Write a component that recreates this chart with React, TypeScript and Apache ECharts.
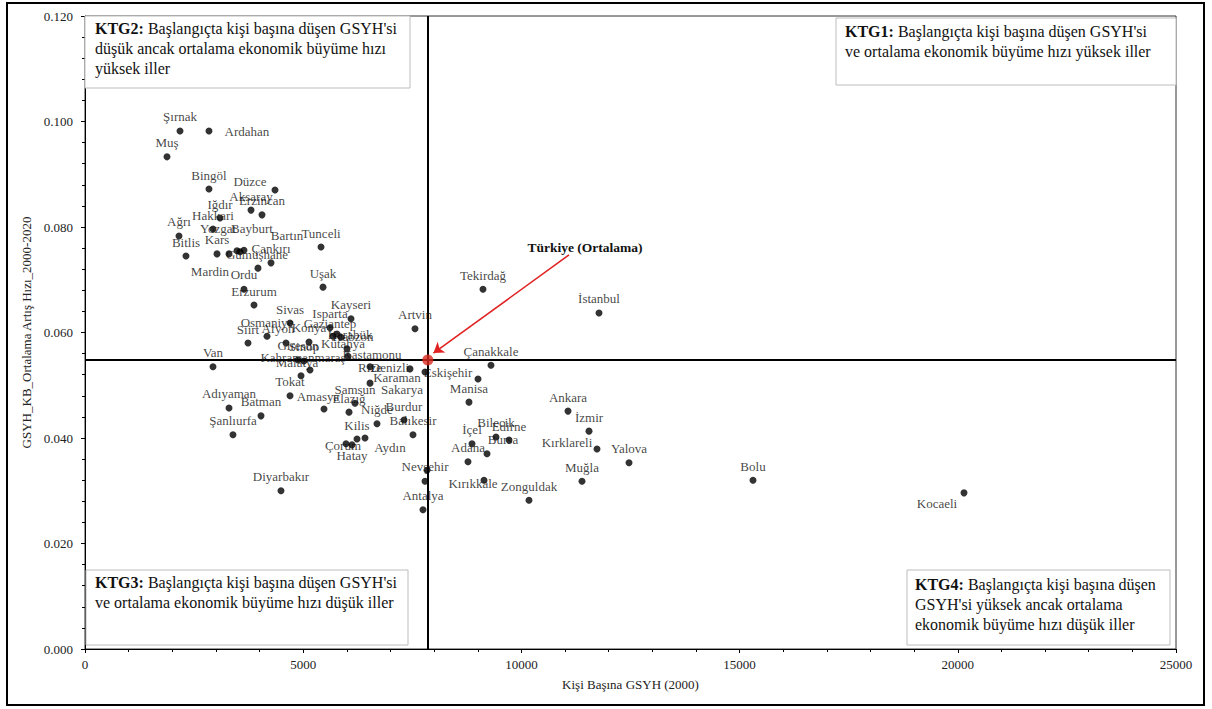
import React, { useEffect, useRef } from "react";
import * as echarts from "echarts";

// ---- data ----
const provinces = [
  "Şırnak", "Ardahan", "Muş", "Bingöl", "Düzce", "Aksaray", "Erzincan", "Iğdır", "Hakkari", "Ağrı",
  "Kars", "Bitlis", "Yozgat", "Gümüşhane", "Bayburt", "Bartın", "Çankırı", "Ordu", "Tunceli", "Uşak",
  "Mardin", "Erzurum", "Sivas", "Osmaniye", "Siirt", "Afyon", "Konya", "Isparta", "Kayseri", "Gaziantep",
  "Karabük", "Trabzon", "Giresun", "Sinop", "Kahramanmaraş", "Malatya", "Tokat", "Kütahya", "Kastamonu", "Van",
  "Artvin", "Rize", "Denizli", "Sakarya", "Eskişehir", "Karaman", "Samsun", "Amasya", "Elazığ", "Niğde",
  "Adıyaman", "Batman", "Şanlıurfa", "Burdur", "Balıkesir", "Kilis", "Aydın", "Hatay", "Çorum", "Diyarbakır",
  "Nevşehir", "Kırşehir", "Antalya", "Çanakkale", "Manisa", "Bilecik", "Edirne", "Bursa", "İçel", "Adana",
  "Kırıkkale", "Zonguldak", "Tekirdağ", "İstanbul", "Ankara", "İzmir", "Kırklareli", "Yalova", "Muğla", "Bolu",
  "Kocaeli",
];

const gdp2000 = [
  2177, 2841, 1879, 2841, 4354, 3804, 4056, 3094, 2933, 2154,
  3025, 2314, 3300, 3483, 3643, 3552, 4262, 3964, 5408, 5454,
  3643, 3873, 4698, 4171, 3735, 4606, 5133, 5614, 6095, 5683,
  5775, 5866, 4881, 5018, 5156, 4950, 4698, 6004, 6027, 2933,
  7562, 6531, 7447, 7791, 9006, 6531, 6187, 5477, 6050, 6691,
  3300, 4033, 3391, 7310, 7516, 6233, 6416, 6118, 5981, 4491,
  7837, 7791, 7745, 9303, 8799, 9418, 9716, 9212, 8868, 8776,
  9143, 10174, 9120, 11778, 11068, 11549, 11732, 12466, 11389, 15307,
  20142,
];

const growth = [
  0.0982, 0.0982, 0.0933, 0.0872, 0.0870, 0.0832, 0.0823, 0.0817, 0.0796, 0.0783,
  0.0749, 0.0745, 0.0749, 0.0755, 0.0756, 0.0753, 0.0732, 0.0722, 0.0762, 0.0686,
  0.0682, 0.0652, 0.0618, 0.0593, 0.0580, 0.0580, 0.0582, 0.0609, 0.0626, 0.0593,
  0.0597, 0.0591, 0.0548, 0.0546, 0.0529, 0.0518, 0.0480, 0.0569, 0.0555, 0.0535,
  0.0607, 0.0535, 0.0531, 0.0525, 0.0512, 0.0504, 0.0466, 0.0455, 0.0449, 0.0427,
  0.0457, 0.0442, 0.0406, 0.0434, 0.0406, 0.0398, 0.0400, 0.0387, 0.0389, 0.0300,
  0.0339, 0.0318, 0.0264, 0.0538, 0.0468, 0.0402, 0.0396, 0.0370, 0.0389, 0.0355,
  0.0320, 0.0282, 0.0682, 0.0637, 0.0451, 0.0413, 0.0379, 0.0353, 0.0318, 0.0320,
  0.0296,
];

const turkeyName = "Türkiye (Ortalama)";
const turkeyGdp = [7855];
const turkeyGrowth = [0.0548];
const arrowFrom = [11091, 0.0747];
const arrowTo = [7985, 0.0561];

const xTicks = [0, 5000, 10000, 15000, 20000, 25000];
const yTicks = [0, 0.02, 0.04, 0.06, 0.08, 0.1, 0.12];

const xTitle = "Kişi Başına GSYH (2000)";
const yTitle = "GSYH_KB_Ortalama Artış Hızı_2000-2020";

const notes = [
  ["KTG2:", "Başlangıçta kişi başına düşen GSYH'si", "düşük ancak ortalama ekonomik büyüme hızı", "yüksek iller"],
  ["KTG1:", "Başlangıçta kişi başına düşen GSYH'si", "ve ortalama ekonomik büyüme hızı yüksek iller"],
  ["KTG3:", "Başlangıçta kişi başına düşen GSYH'si", "ve ortalama ekonomik büyüme hızı düşük iller"],
  ["KTG4:", "Başlangıçta kişi başına düşen", "GSYH'si yüksek ancak ortalama", "ekonomik büyüme hızı düşük iller"],
];

// ---- label placement tweaks (pixels, relative to 'top') ----
const labelOffsets: Record<string, [number, number]> = {
  Ardahan: [38, 15], Düzce: [-25, 5], Yozgat: [-11, -11], Gümüşhane: [20, 18], Bayburt: [8, -8],
  Bartın: [47, -2], Ordu: [-14, 20], Mardin: [-34, -4], Gaziantep: [-3, 1], Karabük: [13, 14],
  Trabzon: [11, 13], Kahramanmaraş: [-7, 2], Malatya: [-4, 1], Kütahya: [-4, 9], Kastamonu: [24, 12],
  Rize: [0, 15], Denizli: [-20, 13], Sakarya: [-23, 31], Eskişehir: [-30, 8], Karaman: [27, 8],
  Amasya: [-6, 2], Aydın: [25, 23], Hatay: [0, 25], Çorum: [-3, 16], Nevşehir: [-2, 10],
  Bursa: [16, 0], Kırıkkale: [-11, 17], Kırklareli: [-30, 7], Kocaeli: [-27, 25], Afyon: [-8, -1],
};
const hiddenLabels = ["Kırşehir"];

const SERIF = "'Liberation Serif', 'Times New Roman', serif";

export default function App() {
  const ref = useRef<HTMLDivElement>(null);

  useEffect(() => {
    if (!ref.current) return;
    const chart = echarts.init(ref.current, null, { renderer: "svg" });

    const points = provinces.map((name, i) => ({
      name,
      value: [gdp2000[i], growth[i]],
      label: {
        offset: labelOffsets[name] || [0, 0],
        show: hiddenLabels.indexOf(name) < 0,
      },
    }));

    const boxes = [
      { x: 85, y: 16, w: 325, h: 72, tx: 95, ty: 18 },
      { x: 836, y: 18, w: 340, h: 67, tx: 845, ty: 21 },
      { x: 86, y: 570, w: 322, h: 75, tx: 95, ty: 572 },
      { x: 907, y: 570, w: 263, h: 75, tx: 915, ty: 574 },
    ];

    const graphics: any[] = [
      {
        type: "rect",
        shape: { x: 7, y: 3, width: 1197, height: 702 },
        style: { fill: "none", stroke: "#000", lineWidth: 2 },
        z: 100,
      },
    ];
    notes.forEach((n, i) => {
      const b = boxes[i];
      const lines = n.slice(1);
      const text = "{b|" + n[0] + "} {n|" + lines[0] + "}" + lines.slice(1).map((l) => "\n{n|" + l + "}").join("");
      graphics.push({
        type: "rect",
        shape: { x: b.x, y: b.y, width: b.w, height: b.h },
        style: { fill: "#fff", stroke: "#bdbdbd", lineWidth: 1 },
        z: 50,
      });
      graphics.push({
        type: "text",
        x: b.tx,
        y: b.ty,
        z: 51,
        style: {
          text,
          fill: "#111",
          fontFamily: SERIF,
          fontSize: 16,
          lineHeight: 20,
          rich: {
            b: { fontFamily: SERIF, fontSize: 16, fontWeight: "bold", lineHeight: 20, fill: "#111" },
            n: { fontFamily: SERIF, fontSize: 16, lineHeight: 20, fill: "#111" },
          },
        },
      });
    });
    graphics.push({
      type: "text",
      x: 585,
      y: 247,
      z: 51,
      style: {
        text: turkeyName,
        fill: "#111",
        fontFamily: SERIF,
        fontSize: 13.5,
        fontWeight: "bold",
        align: "center",
        verticalAlign: "middle",
      },
    });

    const axisText = { fontFamily: SERIF, fontSize: 13, color: "#222" };

    chart.setOption({
      animation: false,
      backgroundColor: "#fff",
      grid: { left: 85, right: 36, top: 16, bottom: 60, show: true, borderColor: "#333", borderWidth: 1 },
      xAxis: {
        type: "value",
        min: xTicks[0],
        max: xTicks[xTicks.length - 1],
        interval: xTicks[1] - xTicks[0],
        name: xTitle,
        nameLocation: "middle",
        nameGap: 29,
        nameTextStyle: axisText,
        axisLine: { show: true, onZero: false, lineStyle: { color: "#000", width: 1 } },
        axisTick: { show: true, length: 4, lineStyle: { color: "#000" } },
        minorTick: { show: true, splitNumber: 5, length: 3, lineStyle: { color: "#000" } },
        splitLine: { show: false },
        axisLabel: { ...axisText, margin: 9, formatter: (v: number) => String(v) },
      },
      yAxis: {
        type: "value",
        min: yTicks[0],
        max: yTicks[yTicks.length - 1],
        interval: 0.02,
        name: yTitle,
        nameLocation: "middle",
        nameGap: 49,
        nameRotate: 90,
        nameTextStyle: axisText,
        axisLine: { show: true, onZero: false, lineStyle: { color: "#000", width: 1 } },
        axisTick: { show: true, length: 4, lineStyle: { color: "#000" } },
        minorTick: { show: true, splitNumber: 5, length: 3, lineStyle: { color: "#000" } },
        splitLine: { show: false },
        axisLabel: { ...axisText, margin: 12, formatter: (v: number) => v.toFixed(3) },
      },
      graphic: graphics,
      series: [
        {
          type: "scatter",
          symbol: "circle",
          symbolSize: 7,
          itemStyle: { color: "#000" },
          data: points,
          label: {
            show: true,
            position: "top",
            distance: 4,
            formatter: "{b}",
            fontFamily: SERIF,
            fontSize: 13,
            color: "#111",
          },
          z: 5,
        },
        {
          type: "scatter",
          data: [],
          silent: true,
          markLine: {
            silent: true,
            precision: 5,
            symbol: ["none", "none"],
            label: { show: false },
            lineStyle: { color: "#000", width: 2, type: "solid" },
            data: [{ xAxis: turkeyGdp[0] }, { yAxis: turkeyGrowth[0] }],
          },
          z: 3,
        },
        {
          type: "scatter",
          data: [],
          silent: true,
          markLine: {
            silent: true,
            precision: 5,
            symbol: ["none", "arrow"],
            symbolSize: 10,
            label: { show: false },
            lineStyle: { color: "#e02222", width: 1.6, type: "solid" },
            data: [[{ coord: arrowFrom }, { coord: arrowTo }]],
          },
          z: 6,
        },
        {
          type: "scatter",
          name: turkeyName,
          symbolSize: 11,
          itemStyle: { color: "#d92a1f" },
          data: [[turkeyGdp[0], turkeyGrowth[0]]],
          z: 7,
        },
      ],
    });

    return () => chart.dispose();
  }, []);

  return (
    <div
      ref={ref}
      style={{ position: "fixed", left: 0, top: 0, width: 1212, height: 709, background: "#fff" }}
    />
  );
}
